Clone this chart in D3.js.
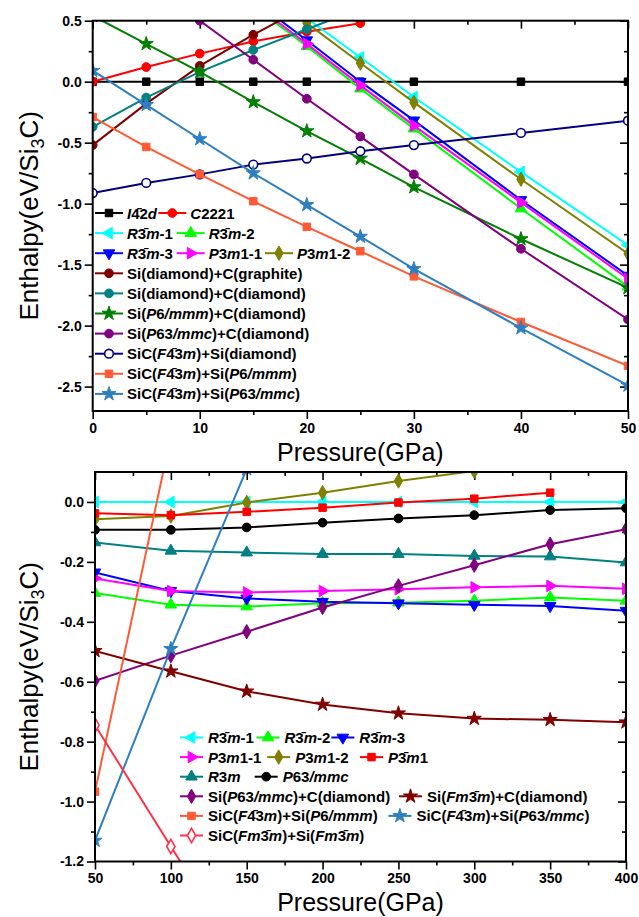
<!DOCTYPE html>
<html>
<head>
<meta charset="utf-8">
<script src="https://cdn.jsdelivr.net/npm/d3@7"></script>
<style>
  body { margin: 0; background: #fff; }
  svg { display: block; }
</style>
</head>
<body>
<div id="chart"></div>
<script>
// ---------- top panel: 0-50 GPa ----------
var pTop = [0, 5, 10, 15, 20, 25, 30, 40, 50];
var pTopC2221 = [0, 5, 10, 15, 20, 25];
var pTopGraphite = [0, 5, 10, 15, 20];
var pTopSiCdia = [0, 5, 10, 15, 20, 25];
var pTopP63 = [5, 10, 15, 20, 25, 30, 40, 50];
var pTopLate = [15, 20, 25, 30, 40, 50];

var hI42d = [0, 0, 0, 0, 0, 0, 0, 0, 0];
var hC2221 = [0, 0.12, 0.23, 0.33, 0.41, 0.48];
var hR3m1 = [0.85, 0.52, 0.2, -0.126, -0.74, -1.34];
var hR3m2 = [0.62, 0.29, -0.057, -0.385, -1.04, -1.68];
var hR3m3 = [0.67, 0.34, 0.0, -0.317, -0.97, -1.59];
var hP3m1a = [0.64, 0.31, -0.03, -0.36, -0.99, -1.615];
var hP3m1b = [0.8, 0.48, 0.153, -0.17, -0.80, -1.41];
var hSiDiaCGra = [-0.52, -0.18, 0.13, 0.385, 0.62];
var hSiDiaCDia = [-0.37, -0.13, 0.08, 0.26, 0.43, 0.6];
var hSiP6CDia = [0.54, 0.31, 0.08, -0.167, -0.405, -0.63, -0.864, -1.29, -1.69];
var hSiP63CDia = [0.82, 0.5, 0.18, -0.14, -0.45, -0.76, -1.37, -1.95];
var hSiCSiDia = [-0.913, -0.83, -0.76, -0.68, -0.63, -0.57, -0.52, -0.42, -0.32];
var hSiCSiP6 = [-0.29, -0.535, -0.76, -0.98, -1.19, -1.39, -1.596, -1.97, -2.33];
var hSiCSiP63 = [0.09, -0.19, -0.47, -0.75, -1.01, -1.27, -1.535, -2.02, -2.49];

var topXTicks = [0, 10, 20, 30, 40, 50];
var topYTicks = [0.5, 0, -0.5, -1.0, -1.5, -2.0, -2.5];

// ---------- bottom panel: 50-400 GPa ----------
var pBot = [50, 100, 150, 200, 250, 300, 350, 400];
var pBotP3m1b = [50, 100, 150, 200, 250, 300];
var pBotP3m1 = [50, 100, 150, 200, 250, 300, 350];
var pBotSiCP6 = [50, 100];
var pBotSiCP63 = [50, 100, 150];
var pBotSiCFm = [50, 100, 150];

var bR3m1 = [0, 0, 0, 0, 0, 0, 0, 0];
var bR3m2 = [-0.304, -0.343, -0.349, -0.338, -0.336, -0.33, -0.319, -0.33];
var bR3m3 = [-0.235, -0.297, -0.322, -0.333, -0.338, -0.343, -0.347, -0.363];
var bP3m1a = [-0.255, -0.297, -0.302, -0.297, -0.291, -0.285, -0.28, -0.29];
var bP3m1b = [-0.058, -0.047, -0.002, 0.031, 0.07, 0.103];
var bPb3m1 = [-0.038, -0.044, -0.033, -0.019, -0.002, 0.011, 0.031];
var bR3m = [-0.135, -0.163, -0.169, -0.174, -0.174, -0.18, -0.182, -0.202];
var bP63mmc = [-0.093, -0.093, -0.085, -0.069, -0.055, -0.044, -0.027, -0.021];
var bSiP63CDia = [-0.597, -0.513, -0.433, -0.352, -0.28, -0.211, -0.141, -0.091];
var bSiFmCDia = [-0.497, -0.565, -0.632, -0.676, -0.705, -0.723, -0.727, -0.735];
var bSiCSiP6 = [-0.967, 0.22];
var bSiCSiP63 = [-1.13, -0.49, 0.11];
var bSiCFmSiFm = [-0.745, -1.15, -1.55];

var botXTicks = [50, 100, 150, 200, 250, 300, 350, 400];
var botYTicks = [0, -0.2, -0.4, -0.6, -0.8, -1.0, -1.2];

var OVER = "\u0304";  // combining bar over the previous digit

// labels: text in {} is italic
var topSeries = [
  {label: "{I}4" + OVER + "2{d}", color: "#000000", sym: "square", x: pTop, y: hI42d},
  {label: "{C}2221", color: "#ff0000", sym: "circle", x: pTopC2221, y: hC2221},
  {label: "{R}3" + OVER + "{m}-1", color: "#00ffff", sym: "left", x: pTopLate, y: hR3m1},
  {label: "{R}3" + OVER + "{m}-2", color: "#00ff00", sym: "up", x: pTopLate, y: hR3m2},
  {label: "{R}3" + OVER + "{m}-3", color: "#0000ff", sym: "down", x: pTopLate, y: hR3m3},
  {label: "{P}3{m}1-1", color: "#ff00ff", sym: "right", x: pTopLate, y: hP3m1a},
  {label: "{P}3{m}1-2", color: "#808000", sym: "diamond", x: pTopLate, y: hP3m1b},
  {label: "Si(diamond)+C(graphite)", color: "#800000", sym: "circle", x: pTopGraphite, y: hSiDiaCGra},
  {label: "Si(diamond)+C(diamond)", color: "#008080", sym: "circle", x: pTopSiCdia, y: hSiDiaCDia},
  {label: "Si({P}6{/mmm})+C(diamond)", color: "#008000", sym: "star", x: pTop, y: hSiP6CDia},
  {label: "Si({P}63{/mmc})+C(diamond)", color: "#800080", sym: "circle", x: pTopP63, y: hSiP63CDia},
  {label: "SiC({F}4" + OVER + "3{m})+Si(diamond)", color: "#000080", sym: "circle", open: true, x: pTop, y: hSiCSiDia},
  {label: "SiC({F}4" + OVER + "3{m})+Si({P}6{/mmm})", color: "#ff5a36", sym: "square", x: pTop, y: hSiCSiP6},
  {label: "SiC({F}4" + OVER + "3{m})+Si({P}63{/mmc})", color: "#2e7fc0", sym: "star", x: pTop, y: hSiCSiP63}
];

var botSeries = [
  {label: "{R}3" + OVER + "{m}-1", color: "#00ffff", sym: "left", x: pBot, y: bR3m1},
  {label: "{R}3" + OVER + "{m}-2", color: "#00ff00", sym: "up", x: pBot, y: bR3m2},
  {label: "{R}3" + OVER + "{m}-3", color: "#0000ff", sym: "down", x: pBot, y: bR3m3},
  {label: "{P}3{m}1-1", color: "#ff00ff", sym: "right", x: pBot, y: bP3m1a},
  {label: "{P}3{m}1-2", color: "#808000", sym: "diamond", x: pBotP3m1b, y: bP3m1b},
  {label: "{P}3" + OVER + "{m}1", color: "#ff0000", sym: "square", x: pBotP3m1, y: bPb3m1},
  {label: "{R}3{m}", color: "#008080", sym: "up", x: pBot, y: bR3m},
  {label: "{P}63{/mmc}", color: "#000000", sym: "circle", x: pBot, y: bP63mmc},
  {label: "Si({P}63{/mmc})+C(diamond)", color: "#800080", sym: "diamond", x: pBot, y: bSiP63CDia},
  {label: "Si({Fm}3" + OVER + "{m})+C(diamond)", color: "#800000", sym: "star", x: pBot, y: bSiFmCDia},
  {label: "SiC({F}4" + OVER + "3{m})+Si({P}6{/mmm})", color: "#ff5a36", sym: "square", x: pBotSiCP6, y: bSiCSiP6},
  {label: "SiC({F}4" + OVER + "3{m})+Si({P}63{/mmc})", color: "#2e7fc0", sym: "star", x: pBotSiCP63, y: bSiCSiP63},
  {label: "SiC({Fm}3" + OVER + "{m})+Si({Fm}3" + OVER + "{m})", color: "#ff3049", sym: "diamond", open: true, x: pBotSiCFm, y: bSiCFmSiFm}
];

var W = 639, H = 917;
var FONT = "'Liberation Sans', Arial, Helvetica, sans-serif";

var svg = d3.select("#chart").append("svg").attr("width", W).attr("height", H)
    .style("font-family", FONT);

var symTypes = {
  square: [d3.symbolSquare, 0, 56], circle: [d3.symbolCircle, 0, 60],
  diamond: [d3.symbolDiamond, 0, 60], star: [d3.symbolStar, 0, 62],
  up: [d3.symbolTriangle, 0, 58], down: [d3.symbolTriangle, 180, 58],
  left: [d3.symbolTriangle, -90, 58], right: [d3.symbolTriangle, 90, 58]
};

function drawMarker(g, s, x, y) {
  var t = symTypes[s.sym];
  g.append("path")
    .attr("d", d3.symbol().type(t[0]).size(t[2])())
    .attr("transform", "translate(" + x + "," + y + ") rotate(" + t[1] + ")")
    .attr("fill", s.open ? "#fff" : s.color)
    .attr("stroke", s.color)
    .attr("stroke-width", s.open ? 1.6 : 1);
}

function richText(textSel, str) {
  var re = /\{([^}]*)\}|[^{]+/g, m;
  while ((m = re.exec(str)) !== null) {
    var it = m[1] !== undefined;
    textSel.append("tspan").text(it ? m[1] : m[0])
      .attr("font-style", it ? "italic" : "normal");
  }
}

function drawPanel(cfg) {
  var x = d3.scaleLinear().domain(cfg.xDomain).range([cfg.left, cfg.right]);
  var y = d3.scaleLinear().domain(cfg.yDomain).range([cfg.bottom, cfg.top]);
  var g = svg.append("g");

  var clipId = "clip" + cfg.id;
  svg.append("clipPath").attr("id", clipId).append("rect")
    .attr("x", cfg.left).attr("y", cfg.top)
    .attr("width", cfg.right - cfg.left).attr("height", cfg.bottom - cfg.top);

  var axStyle = function(a) {
    a.select(".domain").remove();
    a.selectAll("line").attr("stroke", "#000").attr("stroke-width", 1.6);
    a.selectAll("text").attr("font-size", 14).attr("font-weight", "bold")
      .attr("font-family", FONT).attr("fill", "#000");
  };

  // bottom axis (outward) major + minor
  g.append("g").attr("transform", "translate(0," + cfg.bottom + ")")
    .call(d3.axisBottom(x).tickValues(cfg.xMinor).tickSize(4).tickFormat(""))
    .call(axStyle);
  g.append("g").attr("transform", "translate(0," + cfg.bottom + ")")
    .call(d3.axisBottom(x).tickValues(cfg.xTicks).tickSize(8).tickPadding(4).tickFormat(d3.format("d")))
    .call(axStyle);
  // top axis (inward)
  g.append("g").attr("transform", "translate(0," + cfg.top + ")")
    .call(d3.axisTop(x).tickValues(cfg.xMinor).tickSize(-4).tickFormat(""))
    .call(axStyle);
  g.append("g").attr("transform", "translate(0," + cfg.top + ")")
    .call(d3.axisTop(x).tickValues(cfg.xTicks).tickSize(-8).tickFormat(""))
    .call(axStyle);
  // left axis (outward)
  g.append("g").attr("transform", "translate(" + cfg.left + ",0)")
    .call(d3.axisLeft(y).tickValues(cfg.yMinor).tickSize(4).tickFormat(""))
    .call(axStyle);
  g.append("g").attr("transform", "translate(" + cfg.left + ",0)")
    .call(d3.axisLeft(y).tickValues(cfg.yTicks).tickSize(8).tickPadding(3)
      .tickFormat(function(d) { return d.toFixed(1); }))
    .call(axStyle);
  // right axis (inward)
  g.append("g").attr("transform", "translate(" + cfg.right + ",0)")
    .call(d3.axisRight(y).tickValues(cfg.yMinor).tickSize(-4).tickFormat(""))
    .call(axStyle);
  g.append("g").attr("transform", "translate(" + cfg.right + ",0)")
    .call(d3.axisRight(y).tickValues(cfg.yTicks).tickSize(-8).tickFormat(""))
    .call(axStyle);

  // series
  var plot = g.append("g").attr("clip-path", "url(#" + clipId + ")");
  var line = d3.line().x(function(d) { return x(d[0]); }).y(function(d) { return y(d[1]); });
  cfg.series.forEach(function(s) {
    var pts = s.x.map(function(v, i) { return [v, s.y[i]]; });
    plot.append("path").datum(pts).attr("d", line)
      .attr("fill", "none").attr("stroke", s.color).attr("stroke-width", 2);
    pts.forEach(function(p) { drawMarker(plot, s, x(p[0]), y(p[1])); });
  });

  // frame
  g.append("rect").attr("x", cfg.left).attr("y", cfg.top)
    .attr("width", cfg.right - cfg.left).attr("height", cfg.bottom - cfg.top)
    .attr("fill", "none").attr("stroke", "#000").attr("stroke-width", 2);

  // axis titles
  g.append("text").attr("x", (cfg.left + cfg.right) / 2).attr("y", cfg.xTitleY)
    .attr("text-anchor", "middle").attr("font-size", 25).text("Pressure(GPa)");
  var yt = g.append("text").attr("transform", "translate(" + cfg.yTitleX + "," + (cfg.top + cfg.bottom) / 2 + ") rotate(-90)")
    .attr("text-anchor", "middle").attr("font-size", 26);
  yt.append("tspan").text("Enthalpy(eV/Si");
  yt.append("tspan").text("3").attr("font-size", 18).attr("dy", 6);
  yt.append("tspan").text("C)").attr("dy", -6);

  // legend
  var lg = cfg.legend;
  lg.rows.forEach(function(row, r) {
    var cy = lg.y0 + r * lg.dy;
    row.forEach(function(item) {
      var s = cfg.series[item[0]];
      var lx = item[1];
      g.append("line").attr("x1", lx).attr("x2", lx + lg.len)
        .attr("y1", cy).attr("y2", cy).attr("stroke", s.color).attr("stroke-width", 2);
      drawMarker(g, s, lx + lg.len / 2, cy);
      var t = g.append("text").attr("x", lx + lg.len + lg.gap).attr("y", cy + 5.5)
        .attr("font-size", 15).attr("font-weight", "bold");
      richText(t, s.label);
    });
  });
}

drawPanel({
  id: "top", left: 92.7, right: 628, top: 20.7, bottom: 411,
  xDomain: [0, 50], yDomain: [-2.7, 0.5],
  xTicks: topXTicks, xMinor: [5, 15, 25, 35, 45],
  yTicks: topYTicks, yMinor: [0.25, -0.25, -0.75, -1.25, -1.75, -2.25],
  xTitleY: 461, yTitleX: 38,
  series: topSeries,
  legend: {
    y0: 213, dy: 20.1, len: 28, gap: 4,
    rows: [
      [[0, 95], [1, 158.3]],
      [[2, 95], [3, 176.7]],
      [[4, 95], [5, 176.7], [6, 265]],
      [[7, 95]], [[8, 95]], [[9, 95]], [[10, 95]], [[11, 95]], [[12, 95]], [[13, 95]]
    ]
  }
});

drawPanel({
  id: "bot", left: 95, right: 626, top: 472, bottom: 861.5,
  xDomain: [50, 400], yDomain: [-1.2, 0.1],
  xTicks: botXTicks, xMinor: [75, 125, 175, 225, 275, 325, 375],
  yTicks: botYTicks, yMinor: [-0.1, -0.3, -0.5, -0.7, -0.9, -1.1],
  xTitleY: 911, yTitleX: 38,
  series: botSeries,
  legend: {
    y0: 737.5, dy: 19.6, len: 23, gap: 5,
    rows: [
      [[0, 180], [1, 256.5], [2, 331.3]],
      [[3, 180], [4, 267.2], [5, 360]],
      [[6, 180], [7, 254.7]],
      [[8, 180], [9, 399]],
      [[10, 180], [11, 388.4]],
      [[12, 180]]
    ]
  }
});
</script>
</body>
</html>
